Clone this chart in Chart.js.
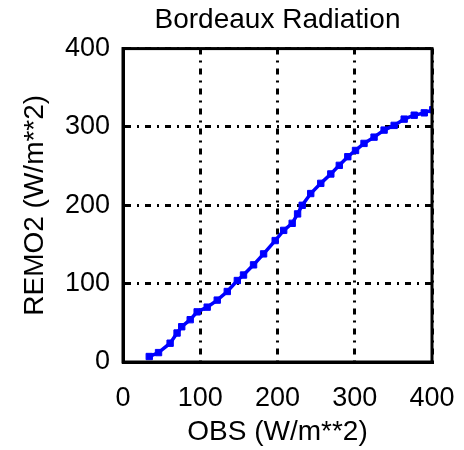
<!DOCTYPE html>
<html lang="en">
<head>
    <meta charset="UTF-8">
    <title>Bordeaux Radiation</title>
    <script src="https://cdn.jsdelivr.net/npm/chart.js"></script>
    <style>
        html, body { margin: 0; padding: 0; background: #fff; }
        #wrap { width: 464px; height: 450px; }
    </style>
</head>
<body>
    <div id="wrap"><canvas id="radChart" width="464" height="450"></canvas></div>
    <script>
        // values (W/m**2)
        const obsValues = [34, 46, 61, 70, 76, 87, 96, 109, 122, 135, 148, 156, 169, 182, 197, 208,
                           219, 226, 232, 243, 256, 269, 280, 291, 301, 312, 325, 338, 351, 364, 377, 390, 401];
        const remoValues = [7, 12, 24, 37, 45, 54, 64, 70, 79, 90, 104, 111, 124, 138, 155, 168,
                            177, 189, 200, 215, 228, 240, 251, 262, 270, 279, 287, 296, 302, 310, 315, 318, 322];
        const tickValues = [0, 100, 200, 300, 400];

        const FONT = "'Liberation Sans', Arial, sans-serif";

        // box around the plot area (Chart.js only draws left/bottom borders)
        const framePlugin = {
            id: 'frame',
            afterDraw(chart) {
                const a = chart.chartArea;
                const ctx = chart.ctx;
                ctx.save();
                ctx.strokeStyle = '#000';
                ctx.lineWidth = 3;
                ctx.strokeRect(a.left, a.top, a.right - a.left, a.bottom - a.top);
                ctx.restore();
            }
        };

        const points = obsValues.map((x, i) => ({ x: x, y: remoValues[i] }));

        new Chart(document.getElementById('radChart').getContext('2d'), {
            type: 'scatter',
            data: {
                datasets: [{
                    data: points,
                    showLine: true,
                    borderColor: '#0000ff',
                    backgroundColor: '#0000ff',
                    borderWidth: 3.5,
                    pointStyle: 'rect',
                    pointRadius: 4.5,
                    pointBorderWidth: 1,
                    tension: 0
                }]
            },
            options: {
                responsive: false,
                animation: false,
                layout: { padding: { top: 0, right: 32, left: 0, bottom: 0 } },
                plugins: {
                    legend: { display: false },
                    tooltip: { enabled: false },
                    title: {
                        display: true,
                        fullSize: false,
                        text: 'Bordeaux Radiation',
                        color: '#000',
                        font: { family: FONT, size: 28, weight: 'normal' },
                        padding: { top: 3, bottom: 12 }
                    }
                },
                scales: {
                    x: {
                        type: 'linear',
                        min: 0,
                        max: 400,
                        afterFit: s => { s.height = 88; s.paddingLeft = 0; s.paddingRight = 0; },
                        afterBuildTicks: s => { s.ticks = tickValues.map(v => ({ value: v })); },
                        ticks: { color: '#000', padding: 20, maxRotation: 0, font: { family: FONT, size: 27 } },
                        grid: { color: '#000', lineWidth: 3, drawTicks: false },
                        border: { color: '#000', width: 3, dash: [6, 6, 2, 6] },
                        title: {
                            display: true,
                            text: 'OBS (W/m**2)',
                            color: '#000',
                            font: { family: FONT, size: 28 },
                            padding: { top: 0, bottom: 1 }
                        }
                    },
                    y: {
                        type: 'linear',
                        min: 0,
                        max: 400,
                        afterFit: s => { s.width = 123; s.paddingTop = 0; s.paddingBottom = 0; },
                        afterBuildTicks: s => { s.ticks = tickValues.map(v => ({ value: v })); },
                        ticks: { color: '#000', padding: 13, font: { family: FONT, size: 27 } },
                        grid: { color: '#000', lineWidth: 3, drawTicks: false },
                        border: { color: '#000', width: 3, dash: [6, 6, 2, 6] },
                        title: {
                            display: true,
                            text: 'REMO2 (W/m**2)',
                            color: '#000',
                            font: { family: FONT, size: 28 },
                            padding: { top: 18, bottom: 0 }
                        }
                    }
                }
            },
            plugins: [framePlugin]
        });
    </script>
</body>
</html>
